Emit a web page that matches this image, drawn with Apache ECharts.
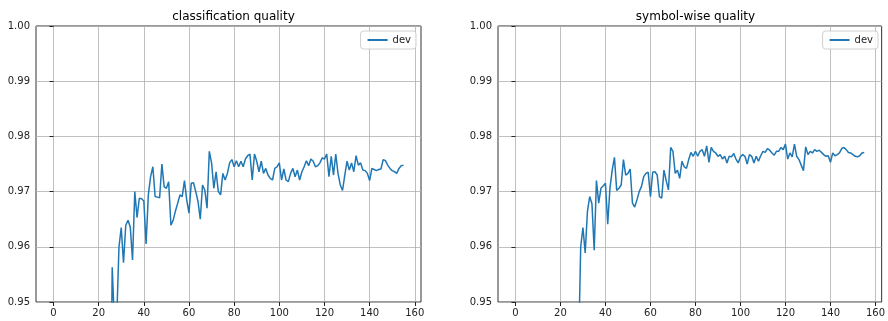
<!DOCTYPE html>
<html>
<head>
<meta charset="utf-8">
<script src="https://cdn.jsdelivr.net/npm/echarts@6/dist/echarts.min.js"></script>
<style>
  html, body { margin: 0; padding: 0; background: #fff; }
  #chart { width: 888px; height: 321px; }
</style>
</head>
<body>
<div id="chart"></div>
<script>
const titles = ['classification quality', 'symbol-wise quality'];
const seriesName = 'dev';
const xTicks = [0, 20, 40, 60, 80, 100, 120, 140, 160];
const yTicks = [0.95, 0.96, 0.97, 0.98, 0.99, 1.00];
const epochCount = 156;

const classificationDev = [
  0.62, 0.71, 0.76, 0.80, 0.83, 0.85, 0.86, 0.87, 0.88, 0.885,
  0.89, 0.895, 0.90, 0.905, 0.91, 0.912, 0.915, 0.918, 0.92, 0.922,
  0.925, 0.928, 0.93, 0.932, 0.935, 0.915, 0.9563, 0.946, 0.947, 0.960,
  0.9635, 0.9571, 0.9639, 0.9648, 0.9636, 0.9576, 0.970, 0.9653, 0.9688, 0.9687,
  0.9683, 0.9605, 0.9694, 0.9727, 0.9745, 0.9691, 0.969, 0.9689, 0.975, 0.9709,
  0.9706, 0.9718, 0.9639, 0.9648, 0.9665, 0.9679, 0.9694, 0.9691, 0.972, 0.9685,
  0.9661, 0.9715, 0.9716, 0.970, 0.9682, 0.965, 0.9712, 0.9703, 0.967, 0.9773,
  0.9752, 0.9706, 0.9736, 0.970, 0.9694, 0.9733, 0.9721, 0.9733, 0.9752, 0.9758,
  0.9745, 0.9756, 0.9745, 0.9755, 0.9745, 0.9759, 0.9765, 0.9768, 0.9721, 0.9768,
  0.9755, 0.9736, 0.9755, 0.9733, 0.9742, 0.973, 0.9724, 0.9721, 0.9742, 0.9745,
  0.9752, 0.9721, 0.9741, 0.9721, 0.9718, 0.9733, 0.9742, 0.9727, 0.9739, 0.9721,
  0.9736, 0.9745, 0.9756, 0.9747, 0.9759, 0.9755, 0.9745, 0.9747, 0.9752, 0.9761,
  0.9759, 0.9768, 0.9727, 0.9764, 0.973, 0.9768, 0.9733, 0.9712, 0.9702, 0.973,
  0.9755, 0.9739, 0.9752, 0.9736, 0.9765, 0.9748, 0.9752, 0.9739, 0.9738, 0.9733,
  0.972, 0.9742, 0.974, 0.9738, 0.974, 0.9741, 0.9758, 0.9756, 0.9748, 0.9742,
  0.9738, 0.9736, 0.9733, 0.9742, 0.9747, 0.9748
];

const symbolDev = [
  0.58, 0.68, 0.74, 0.78, 0.81, 0.83, 0.85, 0.86, 0.87, 0.88,
  0.885, 0.89, 0.895, 0.90, 0.905, 0.908, 0.912, 0.915, 0.918, 0.92,
  0.923, 0.925, 0.928, 0.93, 0.932, 0.934, 0.936, 0.938, 0.940, 0.960,
  0.9635, 0.9589, 0.9664, 0.9691, 0.9678, 0.9594, 0.972, 0.9679, 0.9706, 0.971,
  0.9715, 0.9641, 0.9706, 0.9739, 0.9762, 0.9702, 0.9706, 0.9712, 0.9758, 0.973,
  0.9733, 0.9741, 0.9679, 0.9672, 0.9685, 0.970, 0.9709, 0.9727, 0.9733, 0.9735,
  0.9691, 0.9735, 0.9736, 0.973, 0.9691, 0.9688, 0.9739, 0.972, 0.9703, 0.978,
  0.9773, 0.9733, 0.9739, 0.9724, 0.9755, 0.9745, 0.9742, 0.9758, 0.9771, 0.9764,
  0.9773, 0.9764, 0.9773, 0.9776, 0.9764, 0.9783, 0.9753, 0.978, 0.9773, 0.977,
  0.9764, 0.9767, 0.9759, 0.9764, 0.9752, 0.9764, 0.9763, 0.9769, 0.9759, 0.9752,
  0.9763, 0.9767, 0.9764, 0.975, 0.9767, 0.9764, 0.9752, 0.9764, 0.9755, 0.9765,
  0.9773, 0.9771, 0.9778, 0.9775, 0.977, 0.9766, 0.9773, 0.9773, 0.978, 0.9776,
  0.9786, 0.9759, 0.977, 0.9763, 0.9786, 0.9764, 0.9758, 0.9748, 0.9738, 0.9781,
  0.9767, 0.9773, 0.977, 0.9776, 0.9773, 0.9775, 0.9771, 0.9767, 0.9764, 0.9765,
  0.9753, 0.977, 0.9765, 0.9767, 0.977, 0.9778, 0.978, 0.9776, 0.9771, 0.977,
  0.9767, 0.9764, 0.9763, 0.9765, 0.977, 0.9771
];

const epochs = Array.from({ length: epochCount }, (_, i) => i);
const toPairs = vals => epochs.map((e, i) => [e, vals[i]]);

const FONT = 'DejaVu Sans';
const grids = [
  { left: 36, top: 26, width: 385, height: 276 },
  { left: 498, top: 26, width: 385, height: 276 }
];

const chart = echarts.init(document.getElementById('chart'), null, { renderer: 'canvas' });

function xAxisFor(i) {
  return {
    type: 'value', gridIndex: i, min: -7.75, max: 162.75,
    axisLine: { show: false },
    axisTick: { show: true, customValues: xTicks, length: 4, lineStyle: { color: '#222', width: 1 } },
    axisLabel: { customValues: xTicks, color: '#222', fontFamily: FONT, fontSize: 10, margin: 6 },
    splitLine: { show: true, lineStyle: { color: '#b0b0b0', width: 0.8 } }
  };
}
function yAxisFor(i) {
  return {
    type: 'value', gridIndex: i, min: 0.95, max: 1.0,
    axisLine: { show: false },
    axisTick: { show: true, customValues: yTicks, length: 4, lineStyle: { color: '#222', width: 1 } },
    axisLabel: { customValues: yTicks, color: '#222', fontFamily: FONT, fontSize: 10, margin: 6,
      formatter: v => v.toFixed(2) },
    splitLine: { show: true, lineStyle: { color: '#b0b0b0', width: 0.8 } }
  };
}

const option = {
  animation: false,
  backgroundColor: '#fff',
  title: titles.map((t, i) => ({
    text: t,
    left: grids[i].left + grids[i].width / 2,
    top: 6,
    textAlign: 'center',
    textStyle: { fontFamily: FONT, fontSize: 12, fontWeight: 'normal', color: '#000' }
  })),
  legend: [0, 1].map(i => ({
    data: [{ name: seriesName }],
    seriesIndex: i,
    right: 888 - (grids[i].left + grids[i].width) + 5,
    top: 31,
    orient: 'vertical',
    icon: 'rect',
    itemWidth: 20,
    itemHeight: 2,
    itemGap: 4,
    padding: [4, 5, 4, 7],
    backgroundColor: 'rgba(255,255,255,0.85)',
    borderColor: '#d0d0d0',
    borderWidth: 1,
    borderRadius: 3,
    textStyle: { fontFamily: FONT, fontSize: 10, color: '#222' }
  })),
  grid: grids.map(g => Object.assign({ show: true, borderColor: '#333', borderWidth: 1, backgroundColor: 'transparent', containLabel: false }, g)),
  xAxis: [xAxisFor(0), xAxisFor(1)],
  yAxis: [yAxisFor(0), yAxisFor(1)],
  series: [classificationDev, symbolDev].map((vals, i) => ({
    name: seriesName,
    type: 'line',
    xAxisIndex: i,
    yAxisIndex: i,
    data: toPairs(vals),
    showSymbol: false,
    symbol: 'none',
    clip: true,
    lineStyle: { color: '#1f77b4', width: 1.5 },
    itemStyle: { color: '#1f77b4' }
  }))
};
chart.setOption(option);
</script>
</body>
</html>
